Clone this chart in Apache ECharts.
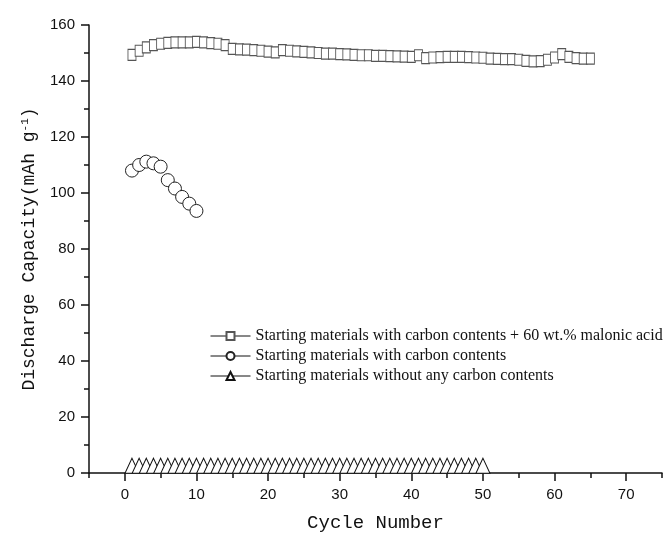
<!DOCTYPE html>
<html>
<head>
<meta charset="utf-8">
<script src="https://cdn.jsdelivr.net/npm/echarts@6/dist/echarts.min.js"></script>
<style>
  html, body { margin: 0; padding: 0; background: #fff; }
  #chart { width: 664px; height: 533px; }
</style>
</head>
<body>
<div id="chart"></div>
<script>
// discharge capacity (mAh/g) per cycle, cycle = index + 1
const malonicValues = [
  149.3, 150.8, 152.0, 152.8, 153.3, 153.6, 153.8, 153.8, 153.8, 154.0,
  153.8, 153.5, 153.3, 152.8, 151.5, 151.3, 151.2, 151.0, 150.8, 150.5,
  150.2, 151.0, 150.8, 150.6, 150.4, 150.2, 150.0, 149.8, 149.8, 149.6,
  149.5, 149.3, 149.2, 149.2, 149.0, 149.0, 148.9, 148.8, 148.7, 148.6,
  149.2, 148.2, 148.4, 148.5, 148.6, 148.6, 148.6, 148.5, 148.4, 148.3,
  148.0, 147.9, 147.8, 147.8, 147.6, 147.2, 147.0, 147.1, 147.6, 148.4,
  149.6, 148.6, 148.2, 148.0, 148.0
];
const carbonValues = [108.0, 110.0, 111.2, 110.6, 109.4, 104.6, 101.6, 98.6, 96.2, 93.6];
const noCarbonValues = [
  2.6, 2.6, 2.6, 2.6, 2.6, 2.6, 2.6, 2.6, 2.6, 2.6,
  2.6, 2.6, 2.6, 2.6, 2.6, 2.6, 2.6, 2.6, 2.6, 2.6,
  2.6, 2.6, 2.6, 2.6, 2.6, 2.6, 2.6, 2.6, 2.6, 2.6,
  2.6, 2.6, 2.6, 2.6, 2.6, 2.6, 2.6, 2.6, 2.6, 2.6,
  2.6, 2.6, 2.6, 2.6, 2.6, 2.6, 2.6, 2.6, 2.6, 2.6
];
const seriesNames = [
  "Starting materials with carbon contents + 60 wt.% malonic acid",
  "Starting materials with carbon contents",
  "Starting materials without any carbon contents"
];
const xTickLabels = [0, 10, 20, 30, 40, 50, 60, 70];

function toPoints(values) {
  return values.map((v, i) => [i + 1, v]);
}

const axisColor = "#111";
const tickFont = { fontFamily: "Liberation Sans", fontSize: 15, color: "#111" };

const option = {
  animation: false,
  backgroundColor: "#fff",
  grid: { left: 89, right: 2, top: 25, bottom: 60, outerBoundsMode: "none" },
  legend: {
    orient: "vertical",
    left: 210,
    top: 328,
    padding: 0,
    itemWidth: 40,
    itemHeight: 10,
    itemGap: 4,
    data: seriesNames,
    textStyle: { fontFamily: "Liberation Serif", fontSize: 16, color: "#111", lineHeight: 16 },
    lineStyle: { color: "#111", width: 1, opacity: 1 }
  },
  xAxis: [
    {
      type: "value",
      min: -5,
      max: 75,
      interval: 5,
      splitLine: { show: false },
      axisLine: { onZero: false, lineStyle: { color: axisColor, width: 1.5 } },
      axisTick: { length: 5, lineStyle: { color: axisColor, width: 1.5 } },
      axisLabel: {
        ...tickFont,
        margin: 14,
        formatter: (v) => (xTickLabels.indexOf(v) >= 0 ? String(v) : "")
      },
      name: "Cycle Number",
      nameLocation: "middle",
      nameGap: 40,
      nameTextStyle: { fontFamily: "Liberation Mono", fontSize: 19, color: "#111" }
    },
    {
      type: "value",
      min: -5,
      max: 75,
      position: "bottom",
      splitLine: { show: false },
      axisLine: { show: false, onZero: false },
      axisLabel: { show: false },
      axisTick: { customValues: xTickLabels, length: 8, lineStyle: { color: axisColor, width: 1.5 } }
    }
  ],
  yAxis: {
    type: "value",
    min: 0,
    max: 160,
    interval: 20,
    splitLine: { show: false },
    axisLine: { show: true, onZero: false, lineStyle: { color: axisColor, width: 1.5 } },
    axisTick: { show: true, length: 8, lineStyle: { color: axisColor, width: 1.5 } },
    minorTick: { show: true, splitNumber: 2, length: 5, lineStyle: { color: axisColor, width: 1.5 } },
    axisLabel: { ...tickFont, margin: 14 },
    name: "Discharge Capacity(mAh g{sup|-1})",
    nameLocation: "middle",
    nameGap: 50,
    nameTextStyle: {
      fontFamily: "Liberation Mono",
      fontSize: 18,
      color: "#111",
      rich: {
        sup: { fontFamily: "Liberation Mono", fontSize: 11, color: "#111", verticalAlign: "top", padding: [0, 0, 8, 0] }
      }
    }
  },
  series: [
    {
      name: seriesNames[0],
      type: "line",
      data: toPoints(malonicValues),
      symbol: "rect",
      symbolSize: [8, 11],
      lineStyle: { opacity: 0 },
      itemStyle: { color: "#fff", borderColor: "#555", borderWidth: 1 },
      emphasis: { disabled: true }
    },
    {
      name: seriesNames[1],
      type: "line",
      data: toPoints(carbonValues),
      symbol: "circle",
      symbolSize: 13,
      lineStyle: { opacity: 0 },
      itemStyle: { color: "#fff", borderColor: "#222", borderWidth: 1 },
      emphasis: { disabled: true }
    },
    {
      name: seriesNames[2],
      type: "line",
      data: toPoints(noCarbonValues),
      symbol: "triangle",
      symbolSize: [14, 15],
      lineStyle: { opacity: 0 },
      itemStyle: { color: "#fff", borderColor: "#111", borderWidth: 1 },
      emphasis: { disabled: true }
    }
  ]
};

const chart = echarts.init(document.getElementById("chart"));
chart.setOption(option);
</script>
</body>
</html>
